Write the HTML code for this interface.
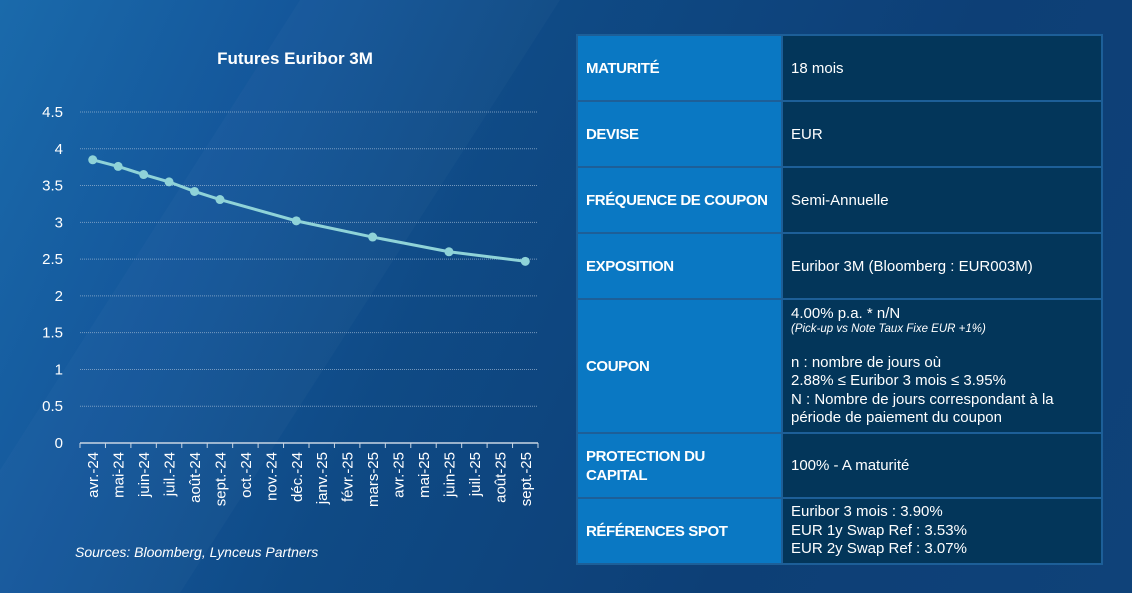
<!DOCTYPE html>
<html><head><meta charset="utf-8"><style>
body{margin:0;width:1132px;height:593px;overflow:hidden;font-family:"Liberation Sans",sans-serif;
background:linear-gradient(115deg,#1a6aab 0%,#14569a 22%,#0f4a85 40%,#0d3f76 70%,#0f4279 100%);position:relative}
.stripe{position:absolute;left:0;top:0;width:1132px;height:593px}
table{position:absolute;left:576px;top:34px;width:525px;border-collapse:collapse;color:#fff;font-size:15px;table-layout:fixed}
td{border:2px solid #1d5f98;padding:0 8px;vertical-align:middle;overflow:hidden}
td.l{background:#0a78c3;font-weight:bold;font-size:15px;letter-spacing:-0.4px;white-space:nowrap}
td.v{background:#03365a;padding-left:8px}
</style></head><body>
<svg class="stripe" width="1132" height="593">
<polygon points="0,593 0,470 300,0 560,0 180,593" fill="#ffffff" opacity="0.025"/>
</svg>
<svg id="chart" width="560" height="593" style="position:absolute;left:0;top:0">
<text x="295" y="64" text-anchor="middle" fill="#fff" font-size="17" font-weight="bold">Futures Euribor 3M</text>
<g id="grid"></g><g id="xax"></g><g id="series"></g>
<text x="75" y="557" fill="#fff" font-size="14" font-style="italic">Sources: Bloomberg, Lynceus Partners</text>
</svg>
<table>
<colgroup><col style="width:205px"><col style="width:320px"></colgroup>
<tr style="height:66px"><td class="l">MATURITÉ</td><td class="v">18 mois</td></tr>
<tr style="height:66px"><td class="l">DEVISE</td><td class="v">EUR</td></tr>
<tr style="height:66px"><td class="l">FRÉQUENCE DE COUPON</td><td class="v">Semi-Annuelle</td></tr>
<tr style="height:66px"><td class="l">EXPOSITION</td><td class="v">Euribor 3M (Bloomberg : EUR003M)</td></tr>
<tr style="height:134px"><td class="l">COUPON</td><td class="v" style="line-height:18.5px">4.00% p.a. * n/N<br><i style="font-size:11.5px;line-height:12px;display:block">(Pick-up vs Note Taux Fixe EUR +1%)</i><br>n : nombre de jours où<br>2.88% ≤ Euribor 3 mois ≤ 3.95%<br>N : Nombre de jours correspondant à la période de paiement du coupon</td></tr>
<tr style="height:65px"><td class="l" style="line-height:19px">PROTECTION DU<br>CAPITAL</td><td class="v">100% - A maturité</td></tr>
<tr style="height:66px"><td class="l">RÉFÉRENCES SPOT</td><td class="v" style="line-height:18.5px">Euribor 3 mois : 3.90%<br>EUR 1y Swap Ref : 3.53%<br>EUR 2y Swap Ref : 3.07%</td></tr>
</table>
<script>
const categories=["avr.-24","mai-24","juin-24","juil.-24","août-24","sept.-24","oct.-24","nov.-24","déc.-24","janv.-25","févr.-25","mars-25","avr.-25","mai-25","juin-25","juil.-25","août-25","sept.-25"];
const values=[3.85,3.76,3.65,3.55,3.42,3.31,null,null,3.02,null,null,2.80,null,null,2.60,null,null,2.47];
const yTicks=[0,0.5,1,1.5,2,2.5,3,3.5,4,4.5];
const NS="http://www.w3.org/2000/svg";
const x0=80,x1=538,y0=443,y1=112,ymax=4.5;
const bw=(x1-x0)/categories.length;
const X=i=>x0+(i+0.5)*bw;
const Y=v=>y0-(v/ymax)*(y0-y1);
function mk(t,a,p){const e=document.createElementNS(NS,t);for(const k in a)e.setAttribute(k,a[k]);p.appendChild(e);return e;}
const grid=document.getElementById('grid'),xax=document.getElementById('xax'),ser=document.getElementById('series');
yTicks.forEach(v=>{
 if(v>0){const l=mk('line',{x1:x0,x2:x1,y1:Y(v),y2:Y(v),stroke:'#9fb8d4','stroke-width':1,'stroke-dasharray':'1,1',opacity:0.7},grid);
 
 }
 const t=mk('text',{x:63,y:Y(v)+5,'text-anchor':'end',fill:'#fff','font-size':15},grid);t.textContent=String(v);
 
 
});
const ax=mk('line',{x1:x0,x2:x1,y1:y0,y2:y0,stroke:'#c9d6e4','stroke-width':1.5},xax);


for(let i=0;i<=categories.length;i++){mk('line',{x1:x0+i*bw,x2:x0+i*bw,y1:y0,y2:y0+5,stroke:'#c9d6e4'},xax);}
categories.forEach((c,i)=>{
 const t=mk('text',{x:0,y:0,transform:`translate(${X(i)+5.5},${y0+9}) rotate(-90)`,'text-anchor':'end',fill:'#fff','font-size':15},xax);t.textContent=c;
 
 
});
const pts=[];values.forEach((v,i)=>{if(v!==null)pts.push([X(i),Y(v)]);});
const pl=mk('polyline',{points:pts.map(p=>p.join(',')).join(' '),fill:'none',stroke:'#8fd3d8','stroke-width':3},ser);


pts.forEach(p=>{const c=mk('circle',{cx:p[0],cy:p[1],r:4.5,fill:'#8fd3d8'},ser);
 
 });
</script>
</body></html>
